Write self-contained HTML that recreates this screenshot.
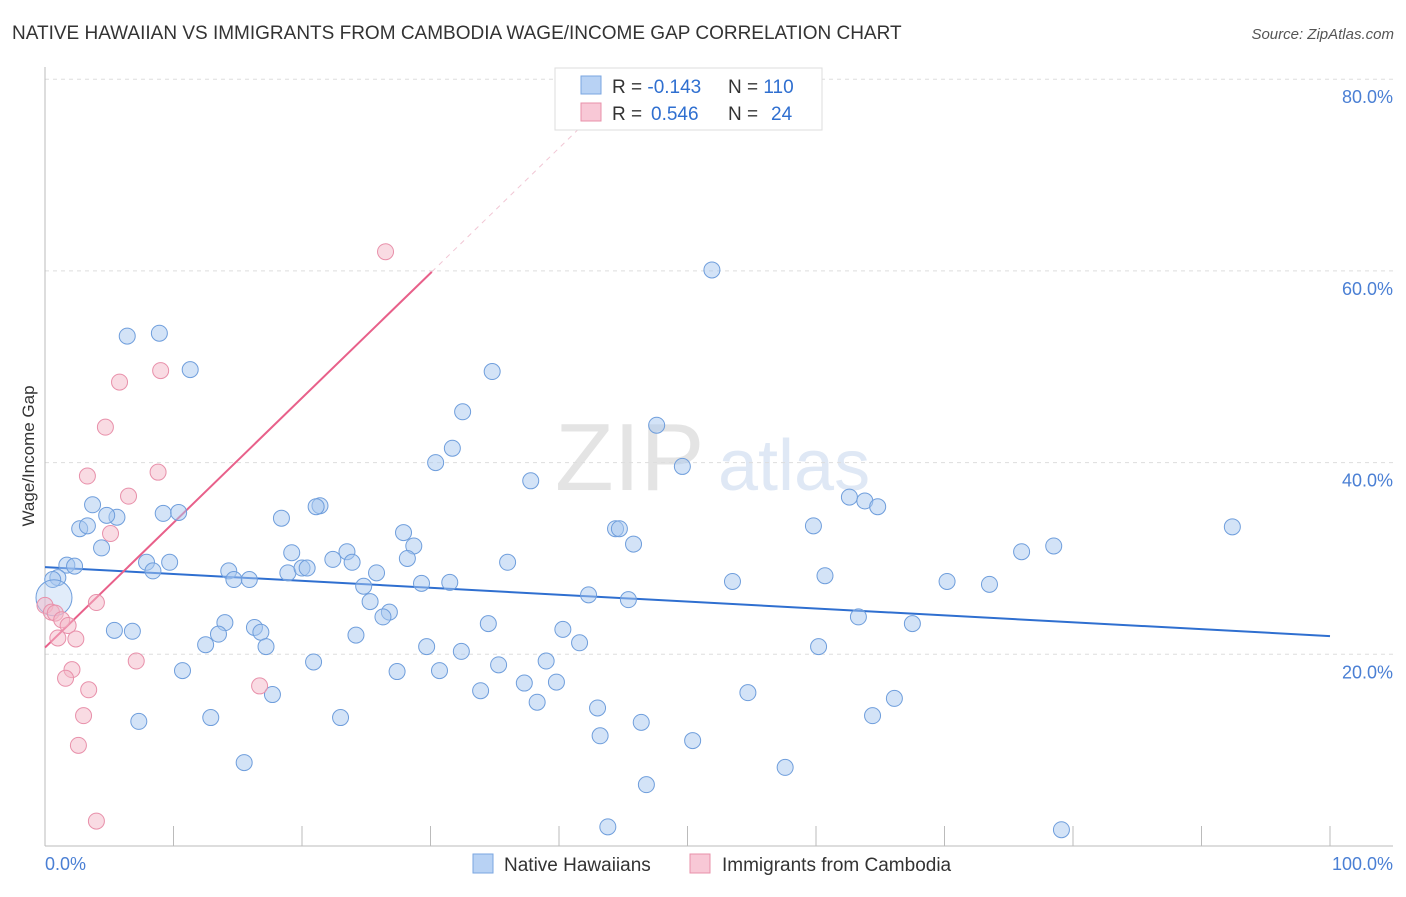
<!DOCTYPE html>
<html><head><meta charset="utf-8"><style>
body{margin:0;background:#fff;font-family:"Liberation Sans",sans-serif;}
svg text{font-family:"Liberation Sans",sans-serif;}
</style></head><body>
<svg id="chart" width="1406" height="892" viewBox="0 0 1406 892" xmlns="http://www.w3.org/2000/svg">
<text x="12" y="39" font-size="19" fill="#333">NATIVE HAWAIIAN VS IMMIGRANTS FROM CAMBODIA WAGE/INCOME GAP CORRELATION CHART</text>
<text x="1394" y="39" font-size="15" fill="#555" text-anchor="end" font-style="italic">Source: ZipAtlas.com</text>
<g>
<text x="555" y="490" font-size="96" fill="#e4e4e4" font-family="Liberation Serif">ZIP</text>
<text x="718" y="490" font-size="72" fill="#dfe8f5">atlas</text>
</g>
<g id="grid"></g>
<g id="axes"></g>
<g id="lines"></g>
<g id="dots"></g>
<text transform="translate(34,456) rotate(-90)" font-size="17" fill="#333" text-anchor="middle">Wage/Income Gap</text>
<text x="45" y="870" font-size="18" fill="#4a7fd4">0.0%</text>
<text x="1393" y="870" font-size="18" fill="#4a7fd4" text-anchor="end">100.0%</text>
<g>
<rect x="555" y="68" width="267" height="62" fill="#fff" stroke="#ddd"/>
<rect x="581" y="76" width="20" height="18" fill="#b8d2f4" stroke="#7aa6e0"/>
<rect x="581" y="103" width="20" height="18" fill="#f8c8d6" stroke="#e890aa"/>
<text x="612" y="93" font-size="19" fill="#333">R = <tspan fill="#2f6fd0">-0.143</tspan><tspan x="728">N = </tspan><tspan fill="#2f6fd0">110</tspan></text>
<text x="612" y="120" font-size="19" fill="#333">R = <tspan fill="#2f6fd0" x="651">0.546</tspan><tspan x="728">N = </tspan><tspan fill="#2f6fd0" x="771">24</tspan></text>
</g>
<g>
<rect x="473" y="854" width="20" height="19" fill="#b8d2f4" stroke="#7aa6e0"/>
<text x="504" y="871" font-size="19" fill="#333">Native Hawaiians</text>
<rect x="690" y="854" width="20" height="19" fill="#f8c8d6" stroke="#e890aa"/>
<text x="722" y="871" font-size="19" fill="#333">Immigrants from Cambodia</text>
</g>
</svg>
<script>
const yTicks=[20,40,60,80];
const yTickLabels=["20.0%","40.0%","60.0%","80.0%"];
const xTicks=[0,10,20,30,40,50,60,70,80,90,100];
const blueX=[51.9,6.4,8.9,11.3,34.8,32.5,47.6,31.7,30.4,49.6,37.8,3.7,21.4,21.1,9.2,10.4,5.6,4.8,2.7,3.3,18.4,27.9,44.4,44.7,59.8,62.6,63.8,64.8,92.4,78.5,76.0,4.4,45.8,28.7,19.2,23.5,22.4,23.9,28.2,36.0,1.7,2.3,7.9,9.7,8.4,14.3,1.0,0.6,18.9,20.0,20.4,25.8,14.7,15.9,29.3,31.5,60.7,53.5,70.2,73.5,24.8,42.3,45.4,25.3,26.8,26.3,63.3,67.5,14.0,34.5,16.3,16.8,5.4,6.8,13.5,24.2,40.3,41.6,12.5,17.2,29.7,32.4,60.2,39.0,20.9,35.3,10.7,27.4,30.7,37.3,39.8,33.9,54.7,17.7,66.1,38.3,43.0,64.4,7.3,12.9,23.0,46.4,43.2,50.4,15.5,57.6,46.8,43.8,79.1,0.7];
const blueY=[60.1,53.2,53.5,49.7,49.5,45.3,43.9,41.5,40.0,39.6,38.1,35.6,35.5,35.4,34.7,34.8,34.3,34.5,33.1,33.4,34.2,32.7,33.1,33.1,33.4,36.4,36.0,35.4,33.3,31.3,30.7,31.1,31.5,31.3,30.6,30.7,29.9,29.6,30.0,29.6,29.3,29.2,29.6,29.6,28.7,28.7,28.0,27.8,28.5,29.0,29.0,28.5,27.8,27.8,27.4,27.5,28.2,27.6,27.6,27.3,27.1,26.2,25.7,25.5,24.4,23.9,23.9,23.2,23.3,23.2,22.8,22.3,22.5,22.4,22.1,22.0,22.6,21.2,21.0,20.8,20.8,20.3,20.8,19.3,19.2,18.9,18.3,18.2,18.3,17.0,17.1,16.2,16.0,15.8,15.4,15.0,14.4,13.6,13.0,13.4,13.4,12.9,11.5,11.0,8.7,8.2,6.4,2.0,1.7,25.9];
const pinkX=[26.5,9.0,5.8,4.7,8.8,3.3,6.5,5.1,4.0,0.0,0.5,0.8,1.3,1.8,1.0,2.4,7.1,2.1,1.6,16.7,3.4,3.0,2.6,4.0];
const pinkY=[62.0,49.6,48.4,43.7,39.0,38.6,36.5,32.6,25.4,25.1,24.4,24.3,23.6,23.0,21.7,21.6,19.3,18.4,17.5,16.7,16.3,13.6,10.5,2.6];
const blueTrend=[[0,29.1],[100,21.9]];
const pinkTrendSolid=[[0,20.7],[30.1,59.9]];
const pinkTrendDash=[[30.1,59.9],[41.6,74.9]];

const NS="http://www.w3.org/2000/svg";
const X0=45,X1=1330,Y0=846,YPER=9.585;
function sx(v){return X0+(X1-X0)*v/100;}
function sy(v){return Y0-v*YPER;}
function mk(tag,attrs,parent){const e=document.createElementNS(NS,tag);for(const k in attrs)e.setAttribute(k,attrs[k]);document.getElementById(parent).appendChild(e);return e;}

yTicks.forEach((t,i)=>{
 const g=mk('line',{x1:45,x2:1393,y1:sy(t),y2:sy(t),stroke:'#ddd','stroke-dasharray':'4,4'},'grid');
 
 
 const l=mk('text',{x:1393,y:sy(t)+24,'font-size':18,fill:'#4a7fd4','text-anchor':'end'},'grid');
 l.textContent=yTickLabels[i];
 
 
});
const ax=mk('line',{x1:45,x2:1393,y1:Y0,y2:Y0,stroke:'#bbb'},'axes');


const ay=mk('line',{x1:45,x2:45,y1:67,y2:Y0,stroke:'#bbb'},'axes');


xTicks.forEach(t=>{
 const k=mk('line',{x1:sx(t),x2:sx(t),y1:826,y2:Y0,stroke:'#bbb'},'axes');
 
 
});
function tl(p,col,dash,name){
 const a={x1:sx(p[0][0]),y1:sy(p[0][1]),x2:sx(p[1][0]),y2:sy(p[1][1]),stroke:col,'stroke-width':2};
 if(dash){a['stroke-dasharray']='5,5';a['stroke-width']=1;a['stroke-opacity']=0.6;}
 const e=mk('line',a,'lines');
 
 
}
blueX.forEach((x,i)=>{
 const big=i===blueX.length-1;
 const c=mk('circle',{cx:sx(x),cy:sy(blueY[i]),r:big?18:8,fill:'#a8c8f0','fill-opacity':big?0.35:0.5,stroke:'#6f9edc','stroke-width':1},'dots');
 
 
});
pinkX.forEach((x,i)=>{
 const c=mk('circle',{cx:sx(x),cy:sy(pinkY[i]),r:8,fill:'#f4b8c8','fill-opacity':0.5,stroke:'#e890aa','stroke-width':1},'dots');
 
 
});
tl(blueTrend,'#2f6fd0',false,'native-hawaiian-trendline');
tl(pinkTrendSolid,'#e8608a',false,'cambodia-trendline');
tl(pinkTrendDash,'#e8a0b8',true,'cambodia-trendline-extension');
</script>
</body></html>
